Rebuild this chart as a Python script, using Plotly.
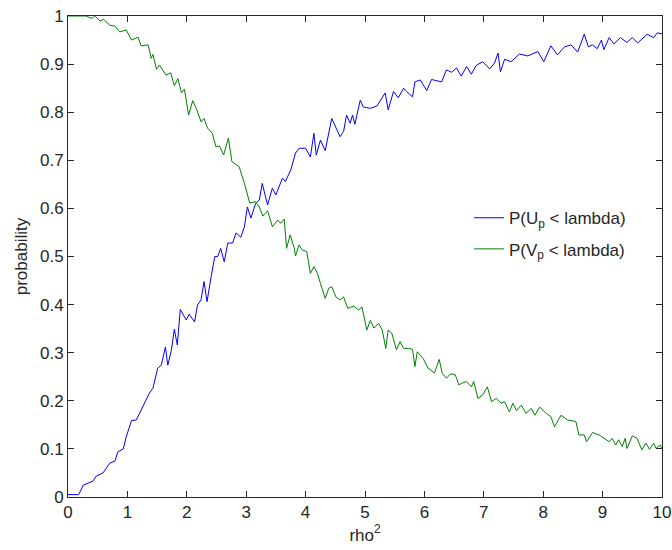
import plotly.graph_objects as go

u_x = [0, 0.18, 0.26, 0.42, 0.48, 0.59, 0.70, 0.79, 0.84, 0.93, 0.98, 1.07, 1.15, 1.26, 1.37, 1.43,
       1.51, 1.57, 1.64, 1.68, 1.74, 1.79, 1.84, 1.89, 1.99, 2.04, 2.13, 2.18, 2.24, 2.29, 2.34, 2.41,
       2.47, 2.52, 2.57, 2.63, 2.69, 2.77, 2.83, 2.91, 2.97, 3.02, 3.08, 3.16, 3.22, 3.27, 3.36, 3.44,
       3.50, 3.61, 3.66, 3.75, 3.83, 3.89, 4.00, 4.08, 4.14, 4.18, 4.25, 4.33, 4.39, 4.44, 4.58, 4.64,
       4.69, 4.75, 4.79, 4.83, 4.92, 4.97, 5.09, 5.20, 5.34, 5.39, 5.48, 5.56, 5.65, 5.70, 5.80, 5.84,
       5.93, 6.04, 6.12, 6.29, 6.37, 6.46, 6.54, 6.62, 6.71, 6.79, 6.87, 6.98, 7.10, 7.18, 7.24, 7.28,
       7.35, 7.46, 7.60, 7.74, 7.91, 8.01, 8.13, 8.24, 8.36, 8.47, 8.58, 8.69, 8.76, 8.83, 8.91, 8.98,
       9.02, 9.11, 9.19, 9.30, 9.41, 9.50, 9.59, 9.69, 9.75, 9.86, 9.92, 10.0]
u_y = [0.005, 0.005, 0.025, 0.033, 0.044, 0.05, 0.07, 0.075, 0.094, 0.10, 0.125, 0.159, 0.16, 0.188, 0.216, 0.226,
       0.268, 0.274, 0.312, 0.274, 0.305, 0.349, 0.316, 0.39, 0.368, 0.38, 0.364, 0.399, 0.41, 0.448, 0.406, 0.458,
       0.50, 0.50, 0.517, 0.489, 0.528, 0.528, 0.549, 0.54, 0.562, 0.603, 0.58, 0.611, 0.617, 0.652, 0.607, 0.642,
       0.628, 0.663, 0.656, 0.68, 0.715, 0.725, 0.725, 0.707, 0.756, 0.711, 0.742, 0.72, 0.76, 0.787, 0.749, 0.76,
       0.794, 0.777, 0.794, 0.775, 0.825, 0.811, 0.808, 0.813, 0.84, 0.805, 0.843, 0.83, 0.85, 0.843, 0.832, 0.863,
       0.867, 0.845, 0.868, 0.863, 0.888, 0.883, 0.892, 0.875, 0.895, 0.879, 0.897, 0.905, 0.89, 0.902, 0.923, 0.884,
       0.91, 0.905, 0.921, 0.917, 0.926, 0.905, 0.938, 0.919, 0.936, 0.94, 0.925, 0.962, 0.936, 0.94, 0.932, 0.95,
       0.93, 0.955, 0.942, 0.955, 0.945, 0.955, 0.944, 0.955, 0.962, 0.955, 0.965, 0.963]

v_x = [0, 0.30, 0.34, 0.40, 0.45, 0.54, 0.60, 0.70, 0.79, 0.87, 0.98, 1.07, 1.18, 1.23, 1.35, 1.40,
       1.43, 1.49, 1.54, 1.65, 1.73, 1.79, 1.85, 1.91, 1.96, 2.03, 2.10, 2.16, 2.24, 2.29, 2.35, 2.43,
       2.49, 2.55, 2.62, 2.70, 2.76, 2.88, 2.97, 3.02, 3.06, 3.16, 3.22, 3.28, 3.36, 3.44, 3.53, 3.58,
       3.64, 3.68, 3.74, 3.81, 3.83, 3.89, 3.94, 4.02, 4.08, 4.14, 4.20, 4.25, 4.33, 4.39, 4.44, 4.51,
       4.58, 4.64, 4.71, 4.81, 4.89, 4.95, 5.03, 5.09, 5.15, 5.23, 5.29, 5.35, 5.39, 5.45, 5.53, 5.59,
       5.65, 5.73, 5.80, 5.84, 5.88, 5.98, 6.06, 6.17, 6.25, 6.30, 6.37, 6.44, 6.52, 6.58, 6.62, 6.71,
       6.79, 6.83, 6.90, 6.98, 7.06, 7.13, 7.21, 7.29, 7.35, 7.43, 7.49, 7.55, 7.63, 7.71, 7.80, 7.86,
       7.94, 8.05, 8.13, 8.19, 8.30, 8.41, 8.55, 8.60, 8.69, 8.73, 8.83, 8.94, 9.02, 9.11, 9.16, 9.22,
       9.27, 9.33, 9.38, 9.41, 9.50, 9.58, 9.66, 9.73, 9.79, 9.86, 9.90, 9.97, 10.0]
v_y = [1.0, 1.0, 0.998, 0.995, 1.0, 0.99, 0.993, 0.981, 0.979, 0.967, 0.971, 0.95, 0.956, 0.938, 0.94, 0.912,
       0.92, 0.889, 0.898, 0.877, 0.882, 0.855, 0.87, 0.84, 0.848, 0.794, 0.824, 0.808, 0.78, 0.787, 0.767, 0.756,
       0.728, 0.73, 0.711, 0.746, 0.697, 0.687, 0.652, 0.632, 0.611, 0.614, 0.603, 0.584, 0.595, 0.562, 0.576, 0.569,
       0.578, 0.517, 0.545, 0.517, 0.501, 0.524, 0.514, 0.51, 0.465, 0.479, 0.465, 0.444, 0.413, 0.434, 0.437, 0.416,
       0.41, 0.416, 0.392, 0.397, 0.389, 0.395, 0.347, 0.367, 0.351, 0.361, 0.347, 0.309, 0.347, 0.341, 0.306, 0.323,
       0.309, 0.309, 0.307, 0.271, 0.302, 0.288, 0.268, 0.258, 0.286, 0.257, 0.247, 0.256, 0.254, 0.233, 0.236, 0.24,
       0.229, 0.24, 0.205, 0.212, 0.229, 0.198, 0.205, 0.195, 0.198, 0.177, 0.195, 0.18, 0.191, 0.174, 0.184, 0.17,
       0.187, 0.174, 0.167, 0.146, 0.17, 0.16, 0.157, 0.129, 0.129, 0.115, 0.134, 0.129, 0.122, 0.115, 0.122, 0.108,
       0.119, 0.105, 0.122, 0.101, 0.127, 0.122, 0.098, 0.112, 0.099, 0.112, 0.101, 0.108, 0.10]

u_name = "P(U<sub>p</sub> &lt; lambda)"
v_name = "P(V<sub>p</sub> &lt; lambda)"

FONT = "Liberation Sans, Arial, sans-serif"
TXT = "#262626"

fig = go.Figure()
fig.add_trace(go.Scatter(x=u_x, y=u_y, mode="lines", name=u_name, legendgroup="u",
                         line=dict(color="#0000ff", width=1)))
fig.add_trace(go.Scatter(x=v_x, y=v_y, mode="lines", name=v_name, legendgroup="v",
                         line=dict(color="#008000", width=1)))

axis_common = dict(showline=True, linecolor=TXT, linewidth=1, mirror="ticks",
                   ticks="inside", ticklen=6, tickcolor=TXT, showgrid=False, zeroline=False,
                   automargin=False,
                   tickfont=dict(family=FONT, size=17, color=TXT))

fig.update_xaxes(range=[0, 10], dtick=1, tick0=0, ticklabeloverflow="allow",
                 title=dict(text="rho<sup>2</sup>", font=dict(family=FONT, size=17, color=TXT), standoff=6),
                 **axis_common)
fig.update_yaxes(range=[0, 1], dtick=0.1, tick0=0,
                 title=dict(text="probability", font=dict(family=FONT, size=17, color=TXT), standoff=8),
                 **axis_common)

fig.update_layout(width=672, height=550,
                  margin=dict(l=68, r=10, t=16, b=53, autoexpand=False),
                  paper_bgcolor="white", plot_bgcolor="white",
                  showlegend=True,
                  legend=dict(x=0.675, y=0.617, xanchor="left", yanchor="top",
                              bgcolor="rgba(0,0,0,0)", borderwidth=0,
                              font=dict(family=FONT, size=17, color=TXT),
                              tracegroupgap=6))

fig.write_html("out.html")
